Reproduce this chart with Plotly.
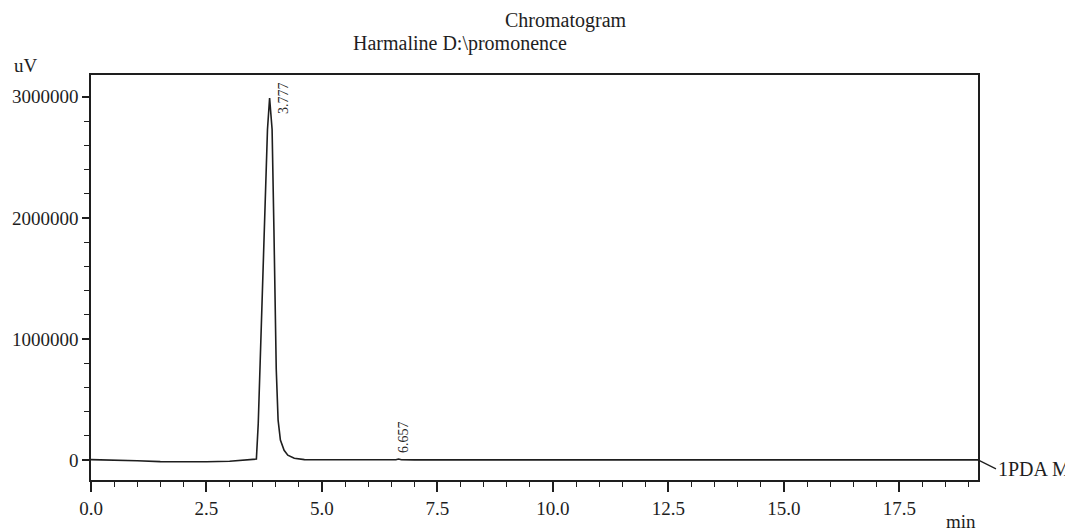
import plotly.graph_objects as go

# Retention time (min) and detector signal (uV)
time_min = [0.0, 0.5, 1.0, 1.5, 2.0, 2.5, 3.0, 3.3, 3.5, 3.58, 3.62, 3.65, 3.70,
            3.76, 3.82, 3.866, 3.92, 3.96, 4.01, 4.05, 4.10, 4.18, 4.26, 4.40,
            4.62, 5.0, 5.5, 6.5, 6.60, 6.657, 6.72, 7.0, 8.0, 8.8, 10.0, 11.5,
            13.0, 15.0, 17.0, 19.2]
signal_uv = [3000, 0, -6000, -13000, -16000, -14000, -10000, -2000, 4000, 8000,
             300000, 660000, 1250000, 1900000, 2730000, 2990000, 2730000,
             1900000, 750000, 330000, 165000, 80000, 40000, 15000, 3000, 2000,
             2000, 1000, 2500, 8000, 2500, 1000, 500, 0, 1000, 3000, 1500, 1000,
             1500, 1000]

peak_times = [3.777, 6.657]
peak_heights = [2990000, 8000]
peak_texts = ["3.777", "6.657"]

y_ticks = [0, 1000000, 2000000, 3000000]
x_ticks = [0.0, 2.5, 5.0, 7.5, 10.0, 12.5, 15.0, 17.5]

title_text = "Chromatogram"
subtitle_text = "Harmaline D:\\promonence"
y_unit = "uV"
x_unit = "min"
trace_name = "1PDA Multi 1"

FONT = "Liberation Serif"
INK = "#1e1e1e"

fig = go.Figure()
fig.add_trace(go.Scatter(x=time_min, y=signal_uv, mode="lines",
                         line=dict(color=INK, width=1.6), hoverinfo="x+y",
                         showlegend=False))

annotations = [
    dict(text=title_text, xref="paper", yref="paper", x=0.5354, y=1,
         yshift=55, xanchor="center", yanchor="middle", showarrow=False,
         font=dict(family=FONT, size=20, color=INK)),
    dict(text=subtitle_text, xref="paper", yref="paper", x=0.2936, y=1,
         yshift=32, xanchor="left", yanchor="middle", showarrow=False,
         font=dict(family=FONT, size=20, color=INK)),
    dict(text=y_unit, xref="paper", yref="paper", x=-0.0889, y=1,
         yshift=10, xanchor="left", yanchor="middle", showarrow=False,
         font=dict(family=FONT, size=19, color=INK)),
    dict(text=x_unit, xref="paper", yref="paper", x=1, y=0,
         yshift=-41, xanchor="right", yanchor="middle", showarrow=False,
         font=dict(family=FONT, size=19, color=INK)),
    dict(text=trace_name, xref="x", yref="y", x=time_min[-1], y=signal_uv[-1],
         ax=18, ay=9, showarrow=True, arrowhead=0, arrowwidth=1.2,
         arrowcolor=INK, standoff=0, xanchor="left", yanchor="middle",
         font=dict(family=FONT, size=20, color=INK)),
]
for t, h, s, xs, ys in zip(peak_times, peak_heights, peak_texts, [17.5, 4.5], [0, 22]):
    annotations.append(dict(text=s, xref="x", yref="y", x=t, y=h,
                            xshift=xs, yshift=ys, textangle=-90,
                            showarrow=False, xanchor="center", yanchor="middle",
                            font=dict(family=FONT, size=14, color=INK)))

fig.update_layout(
    width=1065, height=532,
    margin=dict(l=89, r=87, t=75, b=52),
    paper_bgcolor="white", plot_bgcolor="white",
    font=dict(family=FONT, color=INK),
    annotations=annotations,
    xaxis=dict(range=[0, 19.2], tickvals=x_ticks, tickformat=".1f",
               showline=True, linecolor=INK, linewidth=1.5, mirror=True,
               ticks="outside", ticklen=10, tickwidth=1.5, tickcolor=INK,
               minor=dict(dtick=0.5, tick0=0, ticks="outside", ticklen=5,
                          tickwidth=1.3, tickcolor=INK),
               showgrid=False, zeroline=False,
               tickfont=dict(family=FONT, size=19, color=INK)),
    yaxis=dict(range=[-165000, 3180000], tickvals=y_ticks, tickformat="d",
               showline=True, linecolor=INK, linewidth=1.5, mirror=True,
               ticks="outside", ticklen=7, tickwidth=1.5, tickcolor=INK,
               minor=dict(dtick=200000, tick0=0, ticks="outside", ticklen=5,
                          tickwidth=1.3, tickcolor=INK),
               showgrid=False, zeroline=False, ticklabelstandoff=0,
               tickfont=dict(family=FONT, size=19, color=INK)),
)

fig.write_html(
    "out.html",
    config={"displayModeBar": False},
    post_script="document.body.style.margin='0px';document.body.style.overflow='hidden';",
)
